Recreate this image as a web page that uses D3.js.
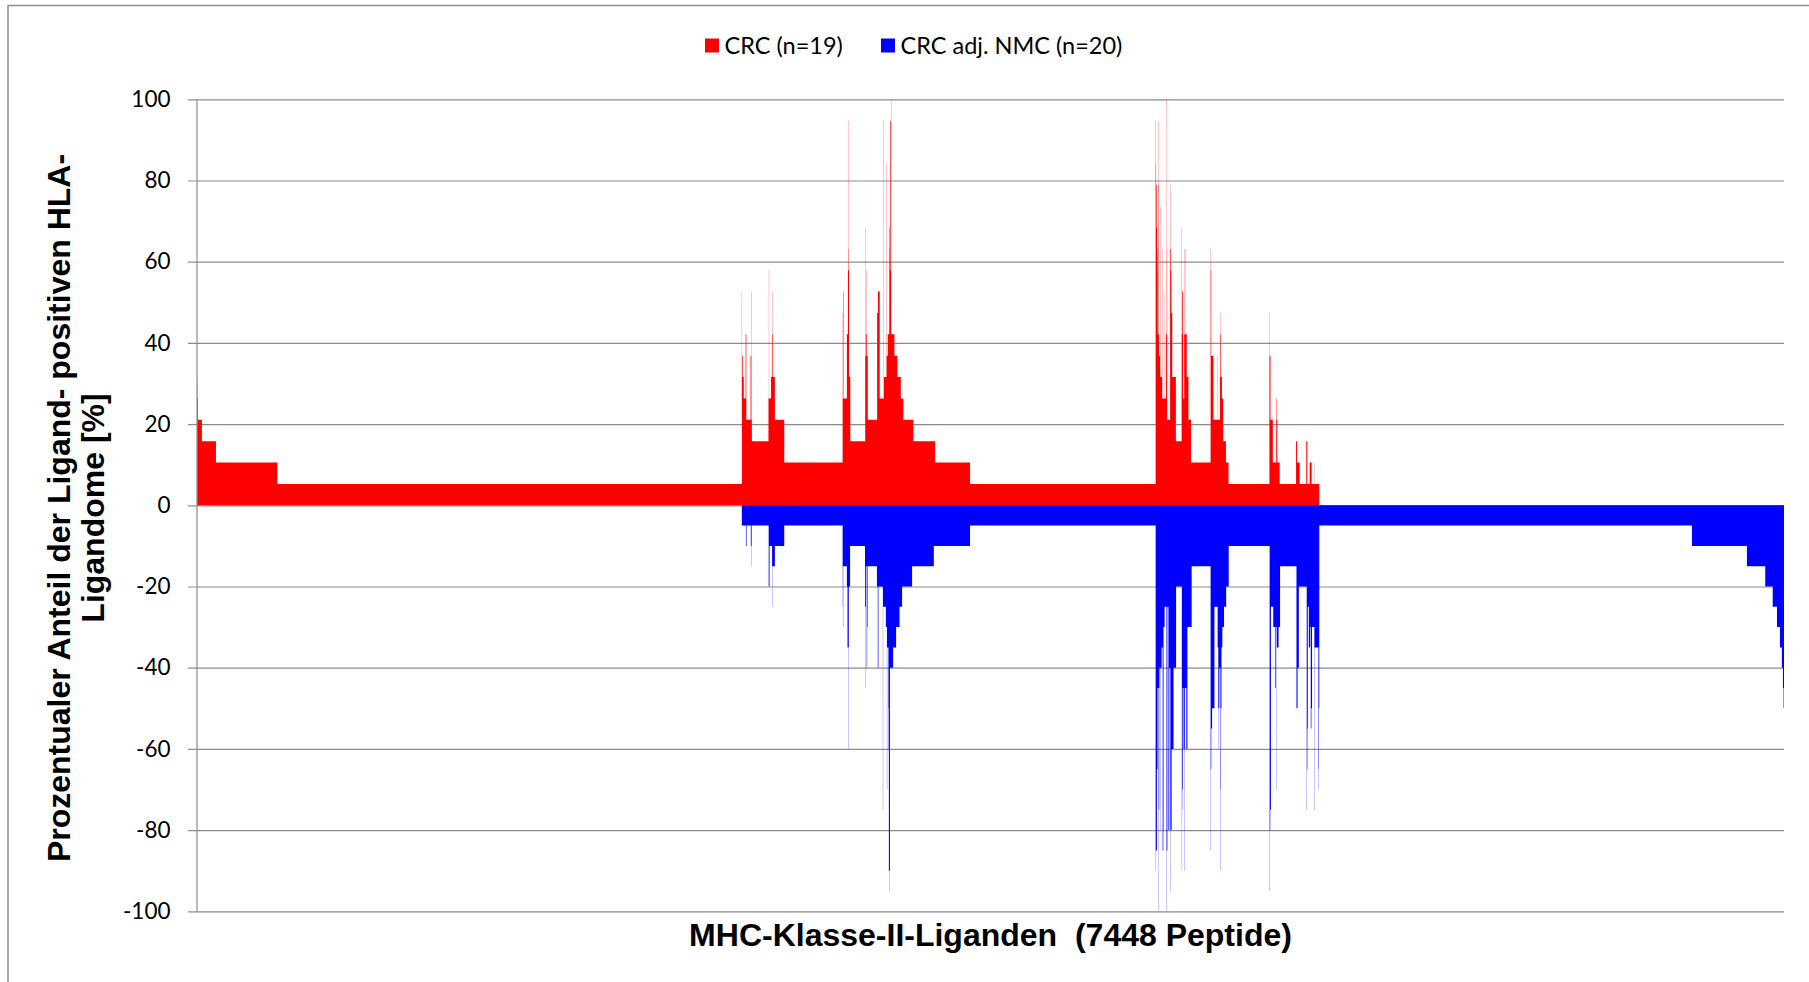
<!DOCTYPE html>
<html>
<head>
<meta charset="utf-8">
<script src="https://cdn.jsdelivr.net/npm/d3@7"></script>
<style>
  html, body { margin: 0; padding: 0; background: #ffffff; }
  svg { display: block; }
</style>
</head>
<body>
<svg id="chart" width="1809" height="982"></svg>
<script>
// ---------------- DATA ----------------
const totalPeptides = 7448;
const crcSampleCount = 19;   // CRC (n=19)
const nmcSampleCount = 20;   // CRC adj. NMC (n=20)
const seriesNames = ["CRC (n=19)", "CRC adj. NMC (n=20)"];
const yTickValues = [-100, -80, -60, -40, -20, 0, 20, 40, 60, 80, 100];
const xAxisTitle = "MHC-Klasse-II-Liganden  (7448 Peptide)";
const yAxisTitleLines = ["Prozentualer Anteil der Ligand- positiven HLA-", "Ligandome [%]"];

// Runs of consecutive peptides: [number of positive samples, number of peptides]
const crcRuns = [
  // CRC-exclusive peptides
  [6,1],[5,3],[4,19],[3,66],[2,288],[1,2180],
  // shared peptides, first cluster
  [10,1],[7,3],[6,5],[5,9],[8,3],[4,20],[7,3],[10,1],[4,2],[3,78],[5,2],[11,1],[5,9],[6,6],[10,1],[8,2],[6,9],[4,44],[2,274],
  [9,1],[5,3],[10,2],[5,14],[8,5],[11,3],[18,1],[12,1],[6,6],[3,70],[13,1],[7,2],[8,3],[11,1],[7,5],[4,44],[9,4],[10,8],[5,19],
  [18,1],[6,12],[16,1],[7,5],[8,7],[13,2],[12,1],[11,2],[18,3],[19,1],[8,15],[7,14],[6,16],[5,12],[4,47],[3,102],[2,164],
  // shared peptides, flat part
  [1,871],
  // shared peptides, second cluster
  [18,1],[16,1],[15,3],[13,2],[12,2],[11,1],[8,2],[15,1],[18,1],[8,2],[7,5],[14,1],[6,8],[12,1],[5,8],[10,1],[5,9],[19,1],[8,3],
  [12,1],[4,14],[15,1],[12,2],[11,3],[9,4],[6,17],[3,27],[13,1],[8,2],[10,4],[5,5],[12,1],[8,3],[12,1],[8,3],[8,4],[6,8],[4,12],[2,92],
  [12,1],[11,2],[7,10],[4,19],[7,1],[4,11],[9,1],[8,2],[6,6],[5,6],[3,13],[2,12],[1,192],[9,1],[7,4],[4,11],[2,16],[5,2],[4,3],
  [2,11],[1,77],[3,5],[2,12],[1,31],[3,5],[1,11],[2,9],[1,11],[2,1],[1,24],
  // NMC-exclusive peptides
  [0,2181]
];

const nmcRuns = [
  // CRC-exclusive peptides
  [0,2557],
  // shared peptides, first cluster
  [1,19],[2,3],[1,20],[2,3],[3,1],[1,80],[4,4],[2,12],[3,3],[5,1],[3,9],[2,44],[1,274],[5,1],[3,2],[6,1],[3,16],[4,3],[7,5],[12,1],
  [4,6],[2,70],[9,1],[5,3],[3,4],[8,2],[6,2],[3,44],[4,4],[8,3],[4,21],[15,1],[5,13],[6,5],[14,1],[7,6],[12,1],[10,1],[18,4],[19,1],
  [8,15],[7,14],[6,16],[5,12],[4,47],[3,102],[2,170],
  // shared peptides, flat part
  [1,871],
  // shared peptides, second cluster
  [18,1],[17,5],[13,3],[9,4],[15,1],[20,1],[9,2],[15,1],[8,4],[16,1],[8,5],[7,5],[17,3],[16,1],[6,5],[5,9],[20,1],[17,3],[5,5],
  [16,4],[8,5],[19,1],[16,5],[12,9],[8,12],[4,27],[18,1],[14,2],[15,1],[9,4],[12,5],[18,1],[9,7],[12,5],[6,20],[3,89],
  [17,1],[13,2],[11,4],[10,11],[5,15],[7,3],[12,1],[10,4],[8,5],[14,1],[18,1],[10,3],[7,4],[6,8],[5,10],[4,12],[2,192],[19,1],
  [16,2],[15,3],[5,11],[6,8],[9,3],[6,5],[14,1],[7,8],[6,7],[3,77],[10,5],[8,6],[4,37],[15,1],[13,2],[11,2],[5,5],[7,6],[6,3],
  [11,3],[10,3],[6,11],[15,1],[7,18],[13,1],[14,1],[10,2],
  // NMC-exclusive peptides
  [1,1749],[2,258],[3,86],[4,35],[5,20],[6,14],[7,9],[8,5],[9,3],[10,2]
];

// ---------------- LAYOUT ----------------
const W = 1809, H = 982;
const plot = { left: 197, right: 1784, top: 99.3, bottom: 911.3 };
const colors = { crc: "#ff0000", nmc: "#0000ff", grid: "#8c8c8c", frame: "#8c8c8c" };

const svg = d3.select("#chart");

// outer chart frame (right / bottom edges lie outside the picture)
svg.append("rect")
  .attr("x", 8).attr("y", 5.5).attr("width", W + 40).attr("height", H + 40)
  .attr("fill", "#ffffff").attr("stroke", colors.frame).attr("stroke-width", 1.5);

const x = d3.scaleLinear().domain([0, totalPeptides]).range([plot.left, plot.right]);
const y = d3.scaleLinear().domain([-100, 100]).range([plot.bottom, plot.top]);

// gridlines + tick labels
const yAxis = d3.axisLeft(y)
  .tickValues(yTickValues)
  .tickFormat(d => String(d))
  .tickSizeInner(-(plot.right - 188))
  .tickSizeOuter(0)
  .tickPadding(17.5);

const gAxis = svg.append("g")
  .attr("transform", "translate(188,0)")
  .call(yAxis);
gAxis.select(".domain").remove();
gAxis.selectAll(".tick line").attr("stroke", colors.grid).attr("stroke-width", 1.2);
gAxis.selectAll(".tick text")
  .attr("fill", "#000")
  .style("font-family", "Lato, 'Open Sans', sans-serif")
  .style("font-size", "22.5px");

// convert runs to step points
function toSteps(runs, n, sign) {
  const pts = [];
  let i = 0;
  runs.forEach(([k, c]) => { pts.push({ i: i, v: sign * k / n * 100 }); i += c; });
  pts.push({ i: i, v: pts[pts.length - 1].v });
  return pts;
}

const area = d3.area()
  .curve(d3.curveStepAfter)
  .x(d => x(d.i))
  .y0(y(0))
  .y1(d => y(d.v));

svg.append("path")
  .datum(toSteps(crcRuns, crcSampleCount, 1))
  .attr("fill", colors.crc)
  .attr("d", area);

svg.append("path")
  .datum(toSteps(nmcRuns, nmcSampleCount, -1))
  .attr("fill", colors.nmc)
  .attr("d", area);

// vertical axis line
svg.append("line")
  .attr("x1", x(0)).attr("x2", x(0))
  .attr("y1", y(100)).attr("y2", y(-100))
  .attr("stroke", colors.grid).attr("stroke-width", 1.2);

// legend
const legendItems = [
  { name: seriesNames[0], color: colors.crc, x: 705 },
  { name: seriesNames[1], color: colors.nmc, x: 881 }
];
const lg = svg.append("g").selectAll("g").data(legendItems).join("g")
  .attr("transform", d => `translate(${d.x},0)`);
lg.append("rect").attr("x", 0).attr("y", 38.5).attr("width", 14).attr("height", 14).attr("fill", d => d.color);
lg.append("text")
  .attr("x", 19.5).attr("y", 53.5)
  .style("font-family", "Lato, 'Open Sans', sans-serif")
  .style("font-size", "23.5px")
  .attr("fill", "#000")
  .text(d => d.name);

// x axis title
svg.append("text")
  .attr("x", (plot.left + plot.right) / 2).attr("y", 946)
  .attr("text-anchor", "middle")
  .style("white-space", "pre")
  .attr("xml:space", "preserve")
  .style("font-family", "'Liberation Sans', Arial, sans-serif")
  .style("font-weight", "bold")
  .style("font-size", "32px")
  .attr("fill", "#000")
  .text(xAxisTitle);

// y axis title (two lines, rotated)
const yTitle = svg.append("g").attr("transform", "translate(0,508) rotate(-90)");
yTitle.selectAll("text").data(yAxisTitleLines).join("text")
  .attr("x", 0)
  .attr("y", (d, i) => i === 0 ? 69.5 : 104)
  .attr("text-anchor", "middle")
  .style("font-family", "'Liberation Sans', Arial, sans-serif")
  .style("font-weight", "bold")
  .style("font-size", "32px")
  .attr("fill", "#000")
  .text(d => d);
</script>
</body>
</html>
